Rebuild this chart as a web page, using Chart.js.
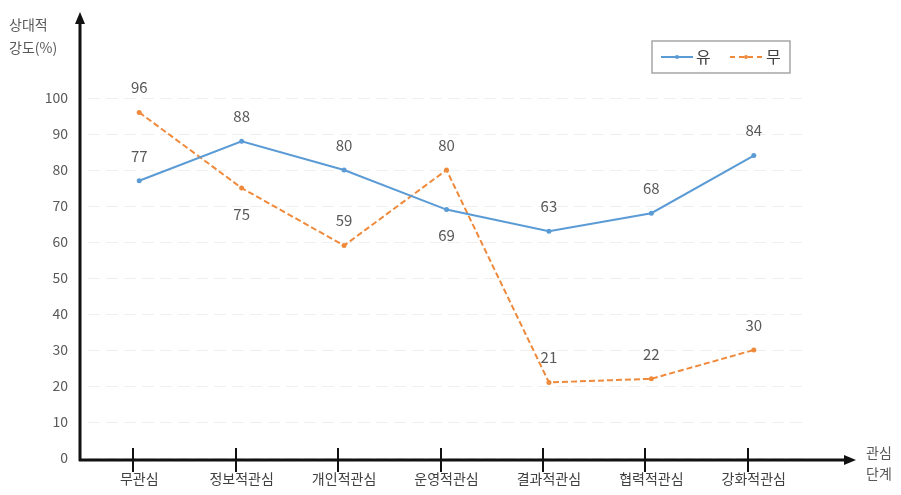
<!DOCTYPE html>
<html>
<head>
<meta charset="utf-8">
<script src="https://cdn.jsdelivr.net/npm/chart.js@4"></script>
<style>
  html, body { margin: 0; padding: 0; background: #fff; }
  #wrap { width: 901px; height: 495px; }
</style>
</head>
<body>
<div id="wrap"><canvas id="chart" width="901" height="495"></canvas></div>
<script>
const stages = ['무관심', '정보적관심', '개인적관심', '운영적관심', '결과적관심', '협력적관심', '강화적관심'];
const yesValues = [77, 88, 80, 69, 63, 68, 84];
const noValues = [96, 75, 59, 80, 21, 22, 30];
// which value labels sit under their point instead of above
const yesBelow = [false, false, false, true, false, false, false];
const noBelow = [false, true, false, false, false, false, false];

const BLUE = '#5b9bd5';
const ORANGE = '#ef8a3c';
const FONT = "'Noto Sans CJK KR', 'Noto Sans', sans-serif";

// axes with arrows, tick marks, value labels, legend box, axis titles
const decor = {
  id: 'decor',
  afterDatasetsDraw(chart) {
    const c = chart.ctx;
    const area = chart.chartArea;
    const xs = chart.scales.x;
    const axisX = 80;
    const axisY = area.bottom + 2;

    c.save();
    c.strokeStyle = '#111';
    c.fillStyle = '#111';
    c.lineWidth = 3;
    c.beginPath();
    c.moveTo(axisX, axisY + 1);
    c.lineTo(axisX, 22);
    c.moveTo(axisX - 1, axisY);
    c.lineTo(846, axisY);
    c.stroke();
    // arrow heads
    c.beginPath();
    c.moveTo(axisX, 12); c.lineTo(axisX - 5, 24); c.lineTo(axisX + 5, 24); c.closePath();
    c.fill();
    c.beginPath();
    c.moveTo(856, axisY); c.lineTo(844, axisY - 5); c.lineTo(844, axisY + 5); c.closePath();
    c.fill();
    // category tick marks crossing the x axis
    c.lineWidth = 2;
    stages.forEach((s, i) => {
      const px = Math.round(xs.getPixelForValue(i)) - 6;
      c.beginPath();
      c.moveTo(px, axisY - 12);
      c.lineTo(px, axisY + 12);
      c.stroke();
    });

    // value labels
    c.font = '15px ' + FONT;
    c.fillStyle = '#595959';
    c.textAlign = 'center';
    c.textBaseline = 'middle';
    [[0, yesBelow], [1, noBelow]].forEach(([di, below]) => {
      const meta = chart.getDatasetMeta(di);
      meta.data.forEach((pt, i) => {
        const dy = below[i] ? 26 : -25;
        c.fillText(String(chart.data.datasets[di].data[i]), pt.x, pt.y + dy);
      });
    });

    // axis titles
    c.font = '14px ' + FONT;
    c.fillStyle = '#595959';
    c.textAlign = 'left';
    c.fillText('상대적', 9, 25);
    c.fillText('강도(%)', 9, 48);
    c.fillText('관심', 866, 453);
    c.fillText('단계', 866, 474);

    // legend box
    c.strokeStyle = '#a6a6a6';
    c.lineWidth = 1.5;
    c.strokeRect(652, 41, 138, 32);
    c.lineWidth = 2;
    c.strokeStyle = BLUE;
    c.beginPath(); c.moveTo(661, 57); c.lineTo(693, 57); c.stroke();
    c.fillStyle = BLUE;
    c.beginPath(); c.arc(677, 57, 2, 0, Math.PI * 2); c.fill();
    c.strokeStyle = ORANGE;
    c.setLineDash([5, 4]);
    c.beginPath(); c.moveTo(730, 57); c.lineTo(762, 57); c.stroke();
    c.setLineDash([]);
    c.fillStyle = ORANGE;
    c.beginPath(); c.arc(746, 57, 2, 0, Math.PI * 2); c.fill();
    c.font = '16px ' + FONT;
    c.fillStyle = '#404040';
    c.fillText(chart.data.datasets[0].label, 696, 57);
    c.fillText(chart.data.datasets[1].label, 766, 57);
    c.restore();
  }
};

new Chart(document.getElementById('chart').getContext('2d'), {
  type: 'line',
  data: {
    labels: stages,
    datasets: [
      {
        label: '유',
        data: yesValues,
        borderColor: BLUE,
        backgroundColor: BLUE,
        borderWidth: 2,
        pointRadius: 2.5,
        pointBorderWidth: 0,
        tension: 0,
        clip: false
      },
      {
        label: '무',
        data: noValues,
        borderColor: ORANGE,
        backgroundColor: ORANGE,
        borderWidth: 2,
        borderDash: [6, 3],
        pointRadius: 2.5,
        pointBorderWidth: 0,
        tension: 0,
        clip: false
      }
    ]
  },
  options: {
    responsive: false,
    animation: false,
    layout: { padding: { top: 98, right: 96, bottom: 0, left: 0 } },
    plugins: {
      legend: { display: false },
      tooltip: { enabled: false }
    },
    scales: {
      x: {
        offset: true,
        grid: { display: false, drawTicks: false },
        border: { display: false },
        ticks: { color: '#404040', font: { size: 14, family: FONT }, padding: 12, maxRotation: 0 },
        afterFit(s) { s.height = 37; }
      },
      y: {
        min: 0,
        max: 100,
        ticks: { stepSize: 10, color: '#595959', font: { size: 14, family: FONT }, padding: 20 },
        grid: { color: '#efefef', lineWidth: 1, drawTicks: false },
        border: { display: false, dash: [12, 6] },
        afterFit(s) { s.width = 88; }
      }
    }
  },
  plugins: [decor]
});
</script>
</body>
</html>
